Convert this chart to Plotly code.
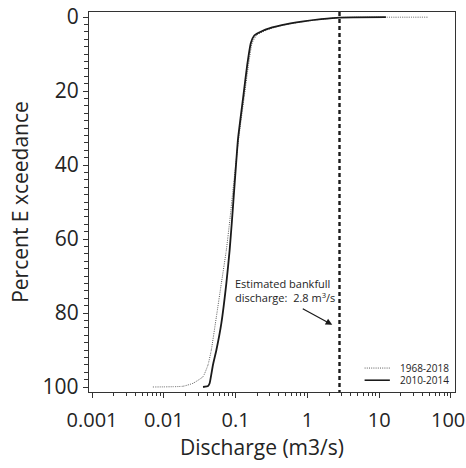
import numpy as np
import plotly.graph_objects as go

# Flow-duration curves: discharge (m3/s) vs percent of time exceeded
pct_1968_2018 = [0.05, 0.06, 0.08, 0.15, 0.6, 1.2, 2.2, 3.4, 4.1, 4.8, 7, 13, 22, 33,
                 45, 55, 63, 72, 81, 90, 94, 97.2, 99, 99.8, 100]
q_1968_2018 = [47, 12, 5.0, 2.8, 1.6, 0.9, 0.45, 0.28, 0.235, 0.198, 0.17, 0.151, 0.131,
               0.11, 0.094, 0.083, 0.0743, 0.0633, 0.054, 0.0459, 0.0413, 0.0352,
               0.0255, 0.0185, 0.0068]

pct_2010_2014 = [0.05, 0.15, 0.6, 1.2, 2.2, 3.4, 4.2, 5.0, 7, 13, 22, 33, 45, 55, 63,
                 72, 82.8, 90, 94, 99, 99.7, 100]
q_2010_2014 = [12.4, 2.8, 1.55, 0.88, 0.44, 0.26, 0.213, 0.182, 0.163, 0.145, 0.127,
               0.108, 0.097, 0.089, 0.0826, 0.0743, 0.0633, 0.054, 0.0484, 0.0435,
               0.0413, 0.0352]

bankfull_q = 2.8

x_tick_vals = [0.001, 0.01, 0.1, 1, 10, 100]
x_tick_text = ["0.001", "0.01", "0.1", "1", "10", "100"]
y_tick_vals = [0, 20, 40, 60, 80, 100]

x_range_log = [-3.042, 2.056]
y_range = [101.35, -1.35]

FONT = "Open Sans"
INK = "#242424"
DOT_STYLE = dict(color="#5a5a5a", width=1, dash="1px,1.2px")

minor_x = [m * 10.0 ** e for e in range(-3, 2) for m in range(2, 10)]

fig = go.Figure()

fig.add_trace(go.Scatter(
    x=q_1968_2018, y=pct_1968_2018, mode="lines", name="1968-2018",
    line=dict(**DOT_STYLE, shape="spline", smoothing=0.4),
    showlegend=False,
))
fig.add_trace(go.Scatter(
    x=q_2010_2014, y=pct_2010_2014, mode="lines", name="2010-2014",
    line=dict(color="#1a1a1a", width=1.8, shape="spline", smoothing=0.4),
    showlegend=False,
))

# Bankfull discharge reference line spanning the full y range
fig.add_trace(go.Scatter(
    x=[bankfull_q, bankfull_q], y=[y_range[1], y_range[0]], mode="lines",
    line=dict(color="#1a1a1a", width=2.4, dash="4px,3px"),
    showlegend=False, hoverinfo="skip",
))

fig.add_annotation(
    x=np.log10(0.0908), y=73.8, xref="x", yref="y",
    text="Estimated bankfull<br>discharge:  2.8 m<sup>3</sup>/s",
    showarrow=False, xanchor="left", yanchor="middle", align="left",
    font=dict(family=FONT, size=11, color=INK),
)
fig.add_annotation(
    x=np.log10(2.22), y=83.2, xref="x", yref="y",
    ax=-31, ay=-17, text="", showarrow=True,
    arrowhead=2, arrowsize=1.1, arrowwidth=1.2, arrowcolor="#1a1a1a",
)

# Compact legend in the lower-right corner
legend_items = [("1968-2018", DOT_STYLE),
                ("2010-2014", dict(color="#1a1a1a", width=1.6))]
for i, (label, ln) in enumerate(legend_items):
    yp = 0.063 - i * 0.032
    fig.add_shape(type="line", xref="paper", yref="paper",
                  x0=0.753, x1=0.822, y0=yp, y1=yp, line=ln)
    fig.add_annotation(x=0.99, y=yp, xref="paper", yref="paper", text=label,
                       showarrow=False, xanchor="right", yanchor="middle",
                       font=dict(family=FONT, size=10, color=INK))

# X-axis title, set slightly left of the axis centre
fig.add_annotation(x=0.473, y=-0.103, xref="paper", yref="paper",
                   text="Discharge (m3/s)", showarrow=False,
                   xanchor="center", yanchor="top",
                   font=dict(family=FONT, size=21, color=INK))

# The last decade label sits against the right page edge, so it is drawn
# as its own text nudged inward instead of as a centred tick label
shown_tick_text = x_tick_text[:-1] + [""]
fig.add_annotation(x=np.log10(x_tick_vals[-1]), y=-0.0735, xref="x", yref="paper",
                   text=x_tick_text[-1], showarrow=False, xshift=-3,
                   xanchor="center", yanchor="middle",
                   font=dict(family=FONT, size=20, color=INK))

fig.update_xaxes(
    type="log", range=x_range_log, automargin=False,
    tickmode="array", tickvals=x_tick_vals, ticktext=shown_tick_text,
    ticks="outside", ticklen=5, tickwidth=1, tickcolor="#333",
    minor=dict(tickmode="array", tickvals=minor_x, ticks="outside", ticklen=3,
               tickwidth=1, tickcolor="#333"),
    showline=True, linecolor="#333", linewidth=1.3, mirror=True,
    showgrid=False, zeroline=False, ticklabelstandoff=5,
    tickfont=dict(family=FONT, size=20, color=INK),
)
fig.update_yaxes(
    range=y_range, automargin=False,
    tickmode="array", tickvals=y_tick_vals,
    ticks="outside", ticklen=5, tickwidth=1, tickcolor="#333",
    minor=dict(dtick=2, ticks="outside", ticklen=4, tickwidth=1, tickcolor="#333"),
    showline=True, linecolor="#333", linewidth=1.3, mirror=True,
    showgrid=False, zeroline=False,
    tickfont=dict(family=FONT, size=21, color=INK),
    title=dict(text="Percent E xceedance", font=dict(family=FONT, size=21, color=INK),
               standoff=8),
)

fig.update_layout(
    width=466, height=468,
    margin=dict(l=89, r=11, t=12, b=76),
    paper_bgcolor="white", plot_bgcolor="white",
    showlegend=False,
)

fig.write_html("out.html")
